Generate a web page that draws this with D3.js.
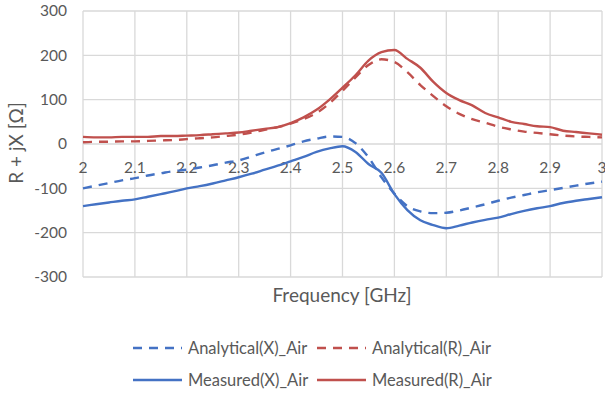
<!DOCTYPE html>
<html><head><meta charset="utf-8">
<script src="https://cdn.jsdelivr.net/npm/d3@7"></script>
<style>body{margin:0;background:#fff}svg{display:block}text{font-family:Lato,"Open Sans",sans-serif;fill:#595959}</style>
</head><body><div id="chart"></div>
<script>
const freq = [2.000,2.025,2.050,2.075,2.100,2.125,2.150,2.175,2.200,2.225,2.250,2.275,2.300,2.325,2.350,2.375,2.400,2.425,2.450,2.475,2.500,2.525,2.550,2.575,2.600,2.625,2.650,2.675,2.700,2.725,2.750,2.775,2.800,2.825,2.850,2.875,2.900,2.925,2.950,2.975,3.000];
const analyticalX = [-100,-94,-88,-82,-77,-71,-66,-61,-58,-53,-48,-42,-37,-28,-19,-11,-3,6,12,17,16,2,-30,-75,-112,-140,-152,-156,-155,-150,-143,-136,-128,-121,-115,-109,-104,-99,-94,-89,-85];
const analyticalR = [4,5,5,6,6,7,8,9,11,13,15,18,21,26,32,38,46,56,70,92,120,150,178,191,185,162,133,108,85,68,56,48,39,33,28,25,22,19,17,16,15];
const measuredX = [-140,-136,-132,-128,-125,-119,-113,-107,-100,-95,-89,-82,-75,-67,-58,-49,-39,-29,-18,-10,-5,-18,-45,-65,-113,-149,-172,-183,-190,-184,-177,-171,-166,-158,-151,-145,-140,-133,-128,-124,-120];
const measuredR = [16,15,15,16,16,16,18,18,19,20,22,24,26,30,34,38,47,60,77,100,127,155,188,207,212,192,172,140,115,99,87,70,60,50,45,40,38,30,27,24,21];
const xTicks = [2,2.1,2.2,2.3,2.4,2.5,2.6,2.7,2.8,2.9,3];
const yTicks = [-300,-200,-100,0,100,200,300];
const series = [
  {name:"Analytical(X)_Air", values:analyticalX, color:"#4472c4", dash:"9,7"},
  {name:"Analytical(R)_Air", values:analyticalR, color:"#c0504d", dash:"9,7"},
  {name:"Measured(X)_Air", values:measuredX, color:"#4472c4", dash:null},
  {name:"Measured(R)_Air", values:measuredR, color:"#c0504d", dash:null}
];

const W=605,H=397;
const svg=d3.select("#chart").append("svg").attr("width",W).attr("height",H);
const x=d3.scaleLinear().domain([2,3]).range([83,602]);
const y=d3.scaleLinear().domain([-300,300]).range([277,11]);

// gridlines
const g=svg.append("g");
g.selectAll(".hg").data(yTicks).join("line")
  .attr("x1",x(2)).attr("x2",x(3)).attr("y1",d=>y(d)).attr("y2",d=>y(d))
  .attr("stroke","#d9d9d9").attr("stroke-width",1.3);
g.selectAll(".vg").data(xTicks).join("line")
  .attr("y1",y(300)).attr("y2",y(-300)).attr("x1",d=>x(d)).attr("x2",d=>x(d))
  .attr("stroke","#d9d9d9").attr("stroke-width",1.3);

// y tick labels
svg.append("g").selectAll("text").data(yTicks).join("text")
  .attr("x",67).attr("y",d=>y(d)).attr("dy","0.35em").attr("text-anchor","end")
  .attr("font-size",15.5).text(d=>d);
// x tick labels next to zero axis
svg.append("g").selectAll("text").data(xTicks).join("text")
  .attr("x",d=>x(d)).attr("y",y(0)+29).attr("text-anchor","middle")
  .attr("font-size",15.5).text(d=>d);

// lines
const line=d3.line().x((d,i)=>x(freq[i])).y(d=>y(d)).curve(d3.curveMonotoneX);
series.forEach(s=>{
  svg.append("path").datum(s.values).attr("d",line).attr("fill","none")
    .attr("stroke",s.color).attr("stroke-width",2.4)
    .attr("stroke-dasharray",s.dash).attr("stroke-linejoin","round");
});

// axis titles
svg.append("text").attr("x",342).attr("y",302).attr("text-anchor","middle")
  .attr("font-size",19).text("Frequency [GHz]");
svg.append("text").attr("transform","translate(23,143) rotate(-90)")
  .attr("text-anchor","middle").attr("font-size",19).text("R + jX [Ω]");

// legend
const legPos=[[133,348],[317,348],[133,380],[317,380]];
series.forEach((s,i)=>{
  const [lx,ly]=legPos[i];
  svg.append("line").attr("x1",lx).attr("x2",lx+49).attr("y1",ly).attr("y2",ly)
    .attr("stroke",s.color).attr("stroke-width",2.4).attr("stroke-dasharray",s.dash);
  svg.append("text").attr("x",lx+55).attr("y",ly).attr("dy","0.35em")
    .attr("font-size",16.5).text(s.name);
});
</script></body></html>
